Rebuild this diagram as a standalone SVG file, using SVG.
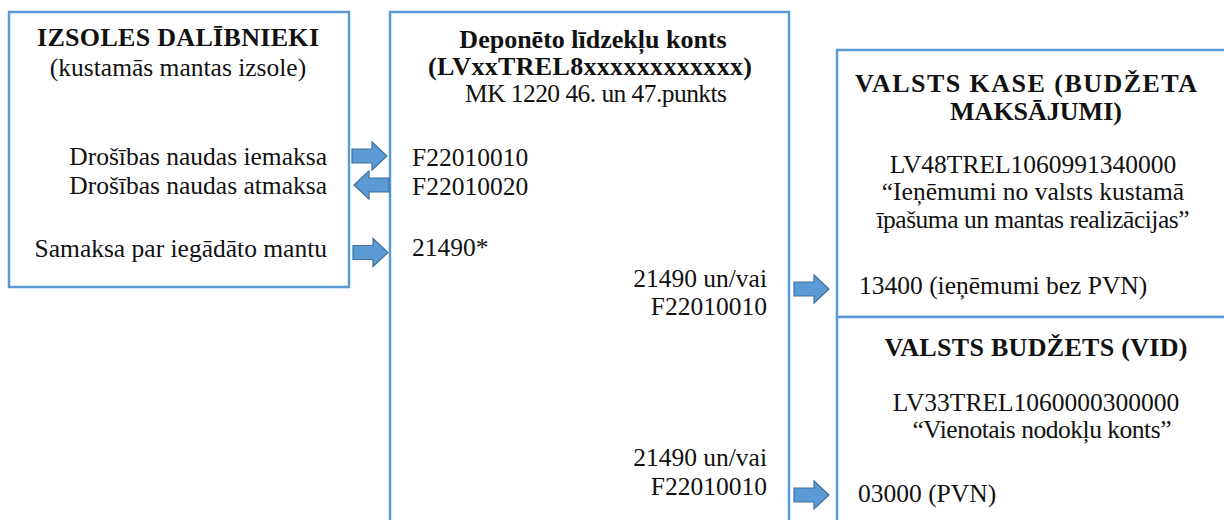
<svg xmlns="http://www.w3.org/2000/svg" width="1224" height="520" viewBox="0 0 1224 520">
<style>
.box{fill:#ffffff;stroke:#5b9bd5;stroke-width:2.5}
text{font-family:"Liberation Serif","Times New Roman",serif;fill:#111111;font-size:25.5px}
.b{font-weight:bold;font-size:26px}
.m{text-anchor:middle}
.e{text-anchor:end}
.arr{fill:#5b9bd5;stroke:#41719c;stroke-width:1.2}
</style>
<defs>
<path id="ar" d="M-17,-7 H3 V-14 L18,0 L3,14 V7 H-17 Z"/>
</defs>
<g id="n-izsoles">
<rect class="box" x="9" y="12" width="340" height="275"/>
<text class="b m" x="178" y="46" textLength="282" lengthAdjust="spacing">IZSOLES DALĪBNIEKI</text>
<text class="m" x="178" y="76">(kustamās mantas izsole)</text>
<text class="e" x="327" y="165">Drošības naudas iemaksa</text>
<text class="e" x="327" y="194">Drošības naudas atmaksa</text>
<text class="e" x="327" y="257">Samaksa par iegādāto mantu</text>
</g>
<g id="n-deponeto">
<path class="box" d="M390,522 V12 H789 V522"/>
<text class="b m" x="593" y="48">Deponēto līdzekļu konts</text>
<text class="b m" x="590" y="75" textLength="324" lengthAdjust="spacing">(LVxxTREL8xxxxxxxxxxxx)</text>
<text class="m" x="596" y="102" font-size="25" textLength="262" lengthAdjust="spacing">MK 1220 46. un 47.punkts</text>
<text x="412" y="166">F22010010</text>
<text x="412" y="195">F22010020</text>
<text x="412" y="256">21490*</text>
<text class="e" x="767" y="287">21490 un/vai</text>
<text class="e" x="767" y="315">F22010010</text>
<text class="e" x="767" y="466">21490 un/vai</text>
<text class="e" x="767" y="495">F22010010</text>
</g>
<g id="n-kase">
<path class="box" d="M1226,50 H837 V317 H1226"/>
<text class="b m" x="1026" y="92" textLength="342" lengthAdjust="spacing">VALSTS KASE (BUDŽETA</text>
<text class="b m" x="1036" y="120">MAKSĀJUMI)</text>
<text class="m" x="1033" y="173">LV48TREL1060991340000</text>
<text class="m" x="1033" y="200">“Ieņēmumi no valsts kustamā</text>
<text class="m" x="1033" y="228" textLength="313" lengthAdjust="spacing">īpašuma un mantas realizācijas”</text>
<text x="859" y="294">13400 (ieņēmumi bez PVN)</text>
</g>
<g id="n-budzets">
<path class="box" d="M837,522 V317 H1226"/>
<text class="b m" x="1036" y="356" textLength="303" lengthAdjust="spacing">VALSTS BUDŽETS (VID)</text>
<text class="m" x="1036" y="411">LV33TREL1060000300000</text>
<text class="m" x="1042" y="438" textLength="259" lengthAdjust="spacing">“Vienotais nodokļu konts”</text>
<text x="858" y="502">03000 (PVN)</text>
</g>
<g id="connectors">
<use href="#ar" class="arr" transform="translate(369,156)"/>
<use href="#ar" class="arr" transform="translate(372,185) scale(-1,1)"/>
<use href="#ar" class="arr" transform="translate(370,252.5)"/>
<use href="#ar" class="arr" transform="translate(811,289)"/>
<use href="#ar" class="arr" transform="translate(811,495)"/>
</g>
</svg>
